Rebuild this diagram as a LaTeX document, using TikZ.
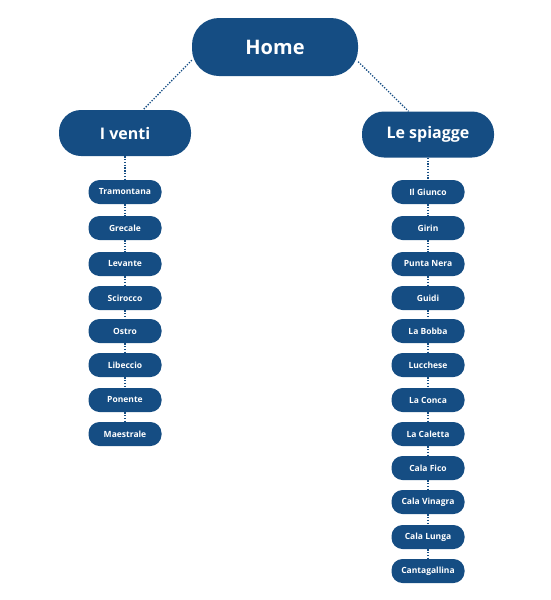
\documentclass[tikz,border=0pt]{standalone}
\usepackage{fontspec}
\setmainfont{Open Sans}
\definecolor{navy}{RGB}{21,77,131}

\begin{document}
\begin{tikzpicture}[x=1pt, y=-1pt,
	box/.style={fill=navy, text=white, inner sep=0pt},
	big/.style={box, minimum width=166pt, minimum height=58pt, rounded corners=27pt,
		font=\fontsize{20}{24}\selectfont\bfseries},
	mid/.style={box, minimum width=132pt, minimum height=46pt, rounded corners=22pt,
		font=\fontsize{16}{19}\selectfont\bfseries},
	small/.style={box, minimum width=73pt, minimum height=24pt, rounded corners=11pt,
		font=\fontsize{8.5}{10}\selectfont\bfseries},
	link/.style={draw=navy, line width=1.3pt, dash pattern=on 1.3pt off 1.5pt}]
	\useasboundingbox (0,0) rectangle (550,600);

	\node[big] (home) at (275,47) {Home};
	\node[mid] (venti) at (125,133) {I venti};
	\node[mid] (spiagge) at (428,134.5) {Le spiagge};

	\foreach \yy/\name [count=\i] in {192/Tramontana, 228/Grecale, 264/Levante,
		298/Scirocco, 331/Ostro, 365/Libeccio, 400/Ponente, 434/Maestrale}
		\node[small] (v\i) at (125,\yy) {\name};

	\foreach \yy/\name [count=\i] in {192/Il Giunco, 228/Girin, 264/Punta Nera,
		298/Guidi, 331/La Bobba, 365/Lucchese, 400/La Conca, 434/La Caletta,
		468/Cala Fico, 502/Cala Vinagra, 537/Cala Lunga, 571/Cantagallina}
		\node[small] (s\i) at (428,\yy) {\name};

	\draw[link] (home.189) -- (venti.52);
	\draw[link] (home.-10) -- (spiagge.130);

	\draw[link] (venti) -- (v1);
	\foreach \i [evaluate=\i as \j using int(\i+1)] in {1,...,7}
		\draw[link] (v\i) -- (v\j);

	\draw[link] (spiagge) -- (s1);
	\foreach \i [evaluate=\i as \j using int(\i+1)] in {1,...,11}
		\draw[link] (s\i) -- (s\j);
\end{tikzpicture}
\end{document}
